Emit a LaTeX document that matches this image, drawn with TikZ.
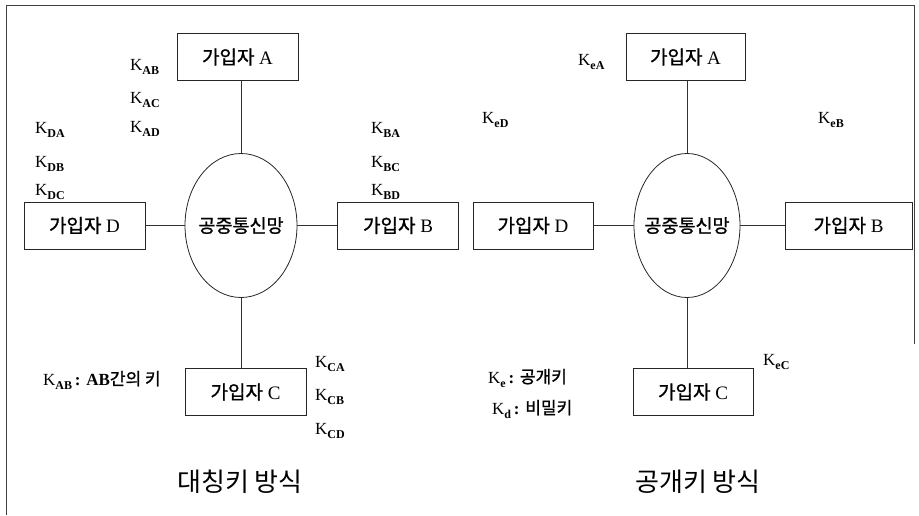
\documentclass[tikz,border=0pt]{standalone}
\usepackage{fontspec}
\setmainfont{Liberation Serif}
\newfontfamily\kr[FakeBold=1.2]{Noto Sans CJK KR}
\newfontfamily\krl{Noto Sans CJK KR}
\usetikzlibrary{shapes.geometric}
\newcommand{\Kl}[1]{{\fontsize{17}{17}\selectfont K\raisebox{-0.28em}{\fontsize{12}{12}\selectfont\bfseries #1}}}
\tikzset{
  conn/.style={draw=black!80, line width=0.8pt},
  boxnode/.style={draw=black!85, line width=0.8pt, minimum width=121pt, minimum height=47pt, inner sep=0pt, font=\fontsize{19}{19}\selectfont},
  netnode/.style={ellipse, draw=black!85, line width=0.8pt, inner sep=0pt,
    label={[inner sep=0pt, font=\kr\fontsize{18.5}{18.5}\selectfont]center:공중통신망}},
  klabel/.style={anchor=base west, inner sep=0pt},
  title/.style={inner sep=0pt, font=\krl\fontsize{26}{26}\selectfont}
}
\begin{document}
\begin{tikzpicture}[x=1pt,y=-1pt]
\useasboundingbox (0,0) rectangle (919,515);
\draw[black!75, line width=1pt] (914,344) -- (914,5) -- (6,5) -- (6,515);

% ---------- left: symmetric ----------
\node[boxnode] (LA) at (237.5,57) {{\kr 가입자} A};
\node[boxnode] (LD) at (84.5,225.5) {{\kr 가입자} D};
\node[boxnode] (LB) at (398,225.5) {{\kr 가입자} B};
\node[boxnode] (LC) at (245.5,392) {{\kr 가입자} C};
\node[netnode, minimum width=112pt, minimum height=144pt] (LN) at (241,225.5) {};
\draw[conn] (LN.north) -- (LN.north |- LA.south);
\draw[conn] (LN.south) -- (LN.south |- LC.north);
\draw[conn] (LD.east) -- (LN.west);
\draw[conn] (LN.east) -- (LB.west);

\node[klabel] (kab) at (130,70) {\Kl{AB}};
\node[klabel] (kac) at (130,103) {\Kl{AC}};
\node[klabel] (kad) at (130,132) {\Kl{AD}};
\node[klabel] (kda) at (35,133) {\Kl{DA}};
\node[klabel] (kdb) at (35,167) {\Kl{DB}};
\node[klabel] (kdc) at (35,195) {\Kl{DC}};
\node[klabel] (kba) at (371,133) {\Kl{BA}};
\node[klabel] (kbc) at (371,167) {\Kl{BC}};
\node[klabel] (kbd) at (371,195) {\Kl{BD}};
\node[klabel] (kca) at (315,367) {\Kl{CA}};
\node[klabel] (kcb) at (315,400) {\Kl{CB}};
\node[klabel] (kcd) at (315,434) {\Kl{CD}};
\node[klabel] (leg1) at (43,385) {\Kl{AB}{\fontsize{17}{17}\selectfont\bfseries\,: AB}{\kr\fontsize{17}{17}\selectfont 간의 키}};
\node[title] (t1) at (240,482) {대칭키 방식};

% ---------- right: public key ----------
\node[boxnode, minimum width=119pt] (RA) at (685.5,57) {{\kr 가입자} A};
\node[boxnode, minimum width=120pt] (RD) at (533,225.5) {{\kr 가입자} D};
\node[boxnode, minimum width=127pt] (RB) at (848.5,225.5) {{\kr 가입자} B};
\node[boxnode, minimum width=120pt] (RC) at (693,392) {{\kr 가입자} C};
\node[netnode, minimum width=106pt, minimum height=144pt] (RN) at (687,225.5) {};
\draw[conn] (RN.north) -- (RN.north |- RA.south);
\draw[conn] (RN.south) -- (RN.south |- RC.north);
\draw[conn] (RD.east) -- (RN.west);
\draw[conn] (RN.east) -- (RB.west);

\node[klabel] (kea) at (578,65) {\Kl{eA}};
\node[klabel] (ked) at (482,123) {\Kl{eD}};
\node[klabel] (keb) at (818,123) {\Kl{eB}};
\node[klabel] (kec) at (763,365) {\Kl{eC}};
\node[klabel] (leg2) at (488,383) {\Kl{e}{\fontsize{17}{17}\selectfont\bfseries\,: }{\kr\fontsize{17}{17}\selectfont 공개키}};
\node[klabel] (leg3) at (492,414) {\Kl{d}{\fontsize{17}{17}\selectfont\bfseries\,: }{\kr\fontsize{17}{17}\selectfont 비밀키}};
\node[title] (t2) at (698,482) {공개키 방식};
\end{tikzpicture}
\end{document}
